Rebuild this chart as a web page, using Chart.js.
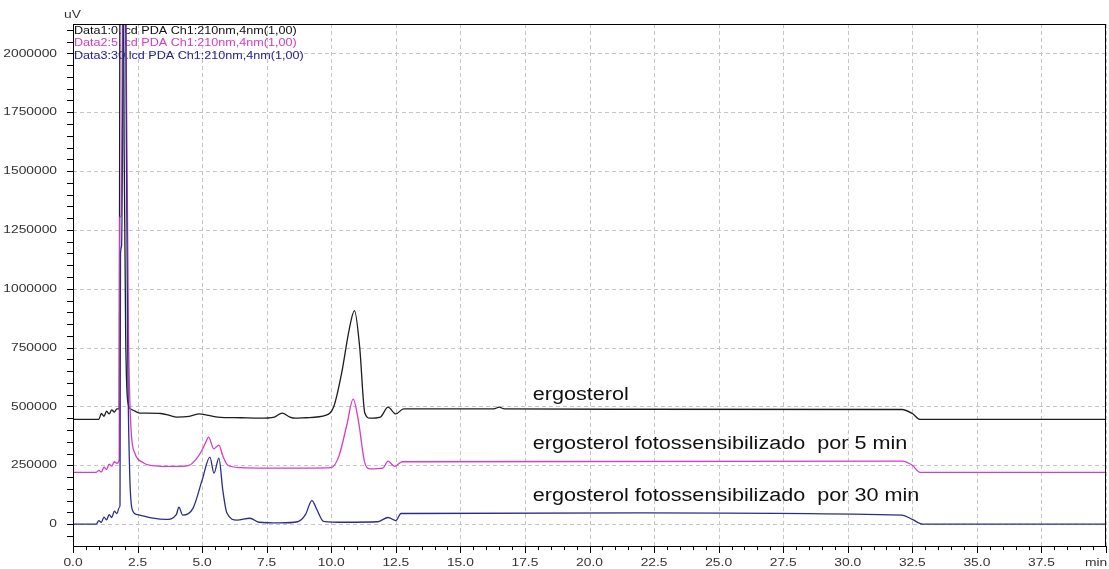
<!DOCTYPE html>
<html>
<head>
<meta charset="utf-8">
<script src="https://cdn.jsdelivr.net/npm/chart.js@4.4.1/dist/chart.umd.min.js"></script>
<style>
  html, body { margin: 0; padding: 0; background: #fff; }
  #wrap { width: 1109px; height: 569px; }
</style>
</head>
<body>
<div id="wrap"><canvas id="chromChart" width="1109" height="569"></canvas></div>
<script>
// retention time (min) and signal (uV) for each run
var ergoT = [0, 1.0, 1.1, 1.2, 1.3, 1.4, 1.5, 1.6, 1.7, 1.79, 1.82, 1.92, 1.98, 2.04, 2.12, 2.25, 2.4, 2.6, 2.9, 3.4, 3.8, 4.0, 4.5, 4.9, 5.1, 5.6, 6.5, 7.2, 7.8, 8.1, 8.4, 8.6, 9.0, 9.8, 10.1, 10.4, 10.7, 10.9, 11.1, 11.3, 11.5, 11.9, 12.2, 12.5, 12.8, 16.3, 16.5, 16.7, 22.0, 32.1, 32.5, 32.8, 40];
var ergoV = [445000, 445000, 470000, 458000, 480000, 468000, 485000, 476000, 490000, 490000, 2600000, 3000000, 1600000, 800000, 520000, 488000, 480000, 472000, 472000, 470000, 460000, 455000, 458000, 468000, 465000, 455000, 452000, 450000, 455000, 472000, 455000, 450000, 452000, 463000, 500000, 640000, 830000, 907000, 753000, 472000, 450000, 455000, 497000, 468000, 490000, 490000, 497000, 490000, 488000, 487000, 470000, 445000, 445000];

var fot5T = [0, 0.9, 1.0, 1.1, 1.2, 1.3, 1.4, 1.5, 1.6, 1.7, 1.79, 1.81, 1.86, 1.97, 2.08, 2.15, 2.25, 2.4, 2.7, 3.0, 4.0, 4.5, 4.8, 5.0, 5.15, 5.25, 5.45, 5.65, 5.8, 6.0, 6.5, 7.5, 9.0, 10.0, 10.3, 10.6, 10.85, 11.05, 11.3, 11.5, 12.0, 12.2, 12.45, 12.75, 32.1, 32.5, 32.8, 40];
var fot5V = [220000, 220000, 228000, 222000, 242000, 232000, 255000, 246000, 265000, 258000, 275000, 1300000, 1310000, 3000000, 1730000, 800000, 400000, 300000, 262000, 250000, 245000, 250000, 280000, 315000, 350000, 370000, 320000, 336000, 290000, 250000, 240000, 238000, 238000, 240000, 290000, 420000, 531000, 440000, 260000, 235000, 238000, 268000, 245000, 265000, 268000, 250000, 220000, 220000];

var fot30T = [0, 0.9, 1.0, 1.1, 1.2, 1.3, 1.4, 1.5, 1.6, 1.7, 1.79, 1.82, 1.84, 1.88, 2.0, 2.06, 2.12, 2.2, 2.3, 2.5, 3.1, 3.6, 4.0, 4.1, 4.25, 4.65, 5.0, 5.3, 5.46, 5.65, 5.8, 5.96, 6.35, 6.85, 7.2, 8.0, 8.7, 9.0, 9.25, 9.45, 9.7, 10.5, 11.8, 12.2, 12.5, 12.7, 22.0, 32.1, 32.5, 32.9, 40];
var fot30V = [0, 0, 15000, 8000, 30000, 18000, 40000, 28000, 55000, 45000, 70000, 80000, 1150000, 1180000, 3000000, 1740000, 700000, 200000, 60000, 40000, 25000, 20000, 40000, 72000, 38000, 68000, 187000, 285000, 217000, 280000, 145000, 47000, 17000, 25000, 8000, 5000, 10000, 40000, 100000, 60000, 12000, 8000, 10000, 28000, 15000, 45000, 48000, 38000, 20000, 0, 0];

var xTicks = [0, 2.5, 5, 7.5, 10, 12.5, 15, 17.5, 20, 22.5, 25, 27.5, 30, 32.5, 35, 37.5, 40];
var xTickLabels = ["0.0", "2.5", "5.0", "7.5", "10.0", "12.5", "15.0", "17.5", "20.0", "22.5", "25.0", "27.5", "30.0", "32.5", "35.0", "37.5", "min"];
var yTicks = [0, 250000, 500000, 750000, 1000000, 1250000, 1500000, 1750000, 2000000];
var yTickLabels = ["0", "250000", "500000", "750000", "1000000", "1250000", "1500000", "1750000", "2000000"];

var legendLines = ["Data1:0.lcd PDA Ch1:210nm,4nm(1,00)", "Data2:5.lcd PDA Ch1:210nm,4nm(1,00)", "Data3:30.lcd PDA Ch1:210nm,4nm(1,00)"];
var traceNames = ["ergosterol", "ergosterol fotossensibilizado  por 5 min", "ergosterol fotossensibilizado  por 30 min"];
var yUnit = "uV";

function toPoints(t, v) {
    return t.map(function (x, i) { return { x: x, y: v[i] }; });
}

var lineColors = ["#1e1e1e", "#d63cc6", "#2c2c8c"];
var textColors = ["#111111", "#d23cc8", "#2222a0"];

// draws text a bit wider, like the original software output
function wideText(ctx, text, x, y, align) {
    var w = ctx.measureText(text).width * 1.2;
    var x0 = x;
    if (align === "right") x0 = x - w;
    if (align === "center") x0 = x - w / 2;
    ctx.save();
    ctx.translate(x0, y);
    ctx.scale(1.2, 1);
    ctx.textAlign = "left";
    ctx.fillText(text, 0, 0);
    ctx.restore();
}

var decor = {
    id: "decor",
    beforeDatasetsDraw: function (chart) {
        var ctx = chart.ctx, area = chart.chartArea;
        var xs = chart.scales.x, ys = chart.scales.y;
        ctx.save();
        // dashed grid
        ctx.strokeStyle = "#c6c6c6";
        ctx.lineWidth = 1;
        ctx.setLineDash([4, 3]);
        ctx.beginPath();
        xTicks.forEach(function (t) {
            var px = Math.round(xs.getPixelForValue(t)) + 0.5;
            ctx.moveTo(px, area.top);
            ctx.lineTo(px, area.bottom);
        });
        yTicks.forEach(function (v) {
            var py = Math.round(ys.getPixelForValue(v)) + 0.5;
            ctx.moveTo(area.left, py);
            ctx.lineTo(area.right, py);
        });
        ctx.stroke();
        ctx.setLineDash([]);

        ctx.font = "10.5px 'Liberation Sans', Arial, sans-serif";
        ctx.textBaseline = "middle";
        legendLines.forEach(function (s, i) {
            ctx.fillStyle = textColors[i];
            wideText(ctx, s, area.left + 1, area.top + 7 + i * 12.5, "left");
        });
        ctx.restore();
    },
    afterDatasetsDraw: function (chart) {
        var ctx = chart.ctx, area = chart.chartArea;
        var xs = chart.scales.x, ys = chart.scales.y;
        ctx.save();
        // frame
        ctx.strokeStyle = "#000";
        ctx.lineWidth = 1;
        ctx.strokeRect(Math.round(area.left) + 0.5, Math.round(area.top) + 0.5,
            Math.round(area.right - area.left) - 1, Math.round(area.bottom - area.top));

        // tick marks
        ctx.beginPath();
        for (var t = 0; t <= 40.001; t += 0.5) {
            var px = Math.round(xs.getPixelForValue(t)) + 0.5;
            var len = Math.abs(t / 2.5 - Math.round(t / 2.5)) < 0.001 ? 7 : 4;
            ctx.moveTo(px, area.bottom);
            ctx.lineTo(px, area.bottom + len);
        }
        for (var v = -50000; v <= 2100000; v += 50000) {
            var py = Math.round(ys.getPixelForValue(v)) + 0.5;
            ctx.moveTo(area.left - 6, py);
            ctx.lineTo(area.left, py);
        }
        ctx.stroke();

        // tick labels
        ctx.fillStyle = "#333";
        ctx.font = "11.5px 'Liberation Sans', Arial, sans-serif";
        ctx.textBaseline = "middle";
        yTicks.forEach(function (v, i) {
            wideText(ctx, yTickLabels[i], area.left - 16, ys.getPixelForValue(v), "right");
        });
        xTicks.forEach(function (t, i) {
            var px = xs.getPixelForValue(t);
            if (i === xTicks.length - 1) px -= 10;
            wideText(ctx, xTickLabels[i], px, area.bottom + 17, "center");
        });
        wideText(ctx, yUnit, area.left - 9, area.top - 9, "left");

        // trace names
        ctx.fillStyle = "#111";
        ctx.font = "18px 'Liberation Sans', Arial, sans-serif";
        ctx.textBaseline = "middle";
        var namePos = [[17.8, 548000], [17.8, 340000], [17.8, 119000]];
        traceNames.forEach(function (s, i) {
            wideText(ctx, s, xs.getPixelForValue(namePos[i][0]), ys.getPixelForValue(namePos[i][1]), "left");
        });
        ctx.restore();
    }
};

var ctx = document.getElementById("chromChart").getContext("2d");
new Chart(ctx, {
    type: "line",
    data: {
        datasets: [
            { label: legendLines[2], data: toPoints(fot30T, fot30V), borderColor: lineColors[2] },
            { label: legendLines[1], data: toPoints(fot5T, fot5V), borderColor: lineColors[1] },
            { label: legendLines[0], data: toPoints(ergoT, ergoV), borderColor: lineColors[0] }
        ]
    },
    options: {
        responsive: false,
        animation: false,
        layout: { padding: { top: 24, right: 3, left: 0, bottom: 0 } },
        elements: {
            line: { borderWidth: 1.3, cubicInterpolationMode: "monotone", fill: false },
            point: { radius: 0 }
        },
        plugins: { legend: { display: false }, tooltip: { enabled: false } },
        scales: {
            x: {
                type: "linear",
                min: 0,
                max: 40,
                afterBuildTicks: function (axis) { axis.ticks = xTicks.map(function (v) { return { value: v }; }); },
                afterFit: function (axis) { axis.height = 23; },
                ticks: { display: false },
                grid: { display: false },
                border: { display: false }
            },
            y: {
                type: "linear",
                min: -93000,
                max: 2125000,
                afterBuildTicks: function (axis) { axis.ticks = yTicks.map(function (v) { return { value: v }; }); },
                afterFit: function (axis) { axis.width = 73; },
                ticks: { display: false },
                grid: { display: false },
                border: { display: false }
            }
        }
    },
    plugins: [decor]
});
</script>
</body>
</html>
